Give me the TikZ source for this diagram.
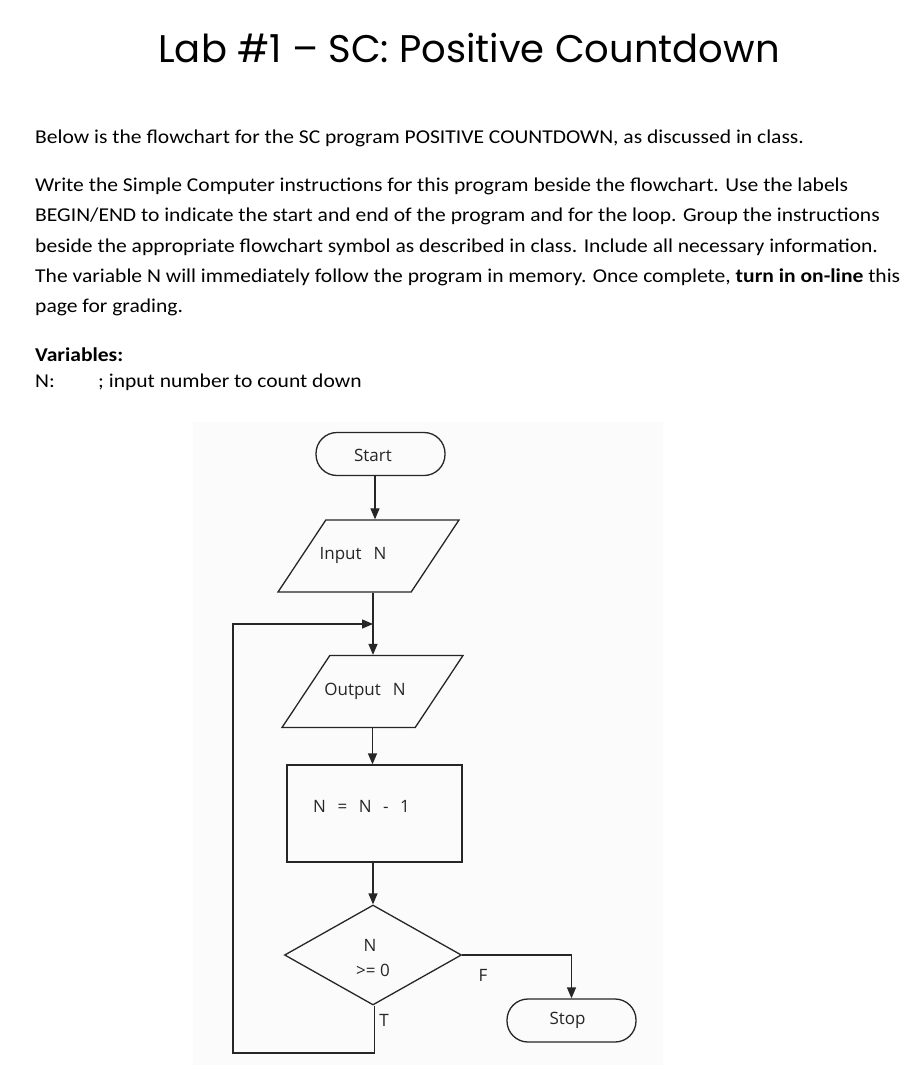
\documentclass[tikz,border=0pt]{standalone}
\usepackage{fontspec}
\setmainfont{Carlito}
\newfontfamily\bodyfont{Carlito}[FakeStretch=1.10]
\newfontfamily\titlefont{Poppins}
\newfontfamily\fcfont{Open Sans}
\usetikzlibrary{shapes.geometric,arrows.meta}
\begin{document}
\begin{tikzpicture}[x=1pt,y=-1pt,
  body/.style={anchor=base west,inner sep=0,font=\bodyfont\fontsize{19.6}{22}\selectfont},
  fcline/.style={draw=black!85,line width=1.3pt},
  fctext/.style={font=\fcfont\fontsize{17}{20}\selectfont,text=black!85,inner sep=0},
  arr/.style={fcline,-{Triangle[length=11pt,width=9pt]}},
  term/.style={fcline,rectangle,rounded corners=21pt,minimum width=129pt,minimum height=43pt,inner sep=0},
  io/.style={fcline,trapezium,trapezium left angle=62,trapezium right angle=118,trapezium stretches=true,minimum width=181pt,minimum height=72pt,inner sep=2pt},
  proc/.style={fcline,rectangle,minimum width=175pt,minimum height=97pt,inner sep=0},
  dec/.style={fcline,diamond,minimum width=177pt,minimum height=100pt,inner sep=0}
]
\useasboundingbox (0,0) rectangle (919,1075);
\fill[white] (0,0) rectangle (919,1075);
\fill[black!1.5] (193,422) rectangle (663,1065);

% header text
\node[anchor=base,inner sep=0,font=\titlefont\fontsize{38.5}{44}\selectfont] (title) at (469,63) {Lab \#1 – SC: Positive Countdown};
\node[body] (t1) at (35,144) {Below is the flowchart for the SC program POSITIVE COUNTDOWN, as discussed in class.};
\node[body] (t2) at (35,192) {Write the Simple Computer instructions for this program beside the flowchart. Use the labels};
\node[body] (t3) at (35,222) {BEGIN/END to indicate the start and end of the program and for the loop. Group the instructions};
\node[body] (t4) at (35,252) {beside the appropriate flowchart symbol as described in class. Include all necessary information.};
\node[body] (t5) at (35,282) {The variable N will immediately follow the program in memory. Once complete, \textbf{turn in on-line} this};
\node[body] (t6) at (35,312) {page for grading.};
\node[body] (v1) at (35,361) {\textbf{Variables:}};
\node[body] (v2) at (35,387) {N:};
\node[body] (v3) at (98,387) {; input number to count down};

% flowchart nodes
\node[term] (start) at (380.5,454) {};
\node[fctext] (startT) at (373,455) {Start};
\node[io] (inp) at (368.5,556) {\phantom{x}};
\node[fctext] (inpT) at (353,555) {Input\hspace{12pt}N};
\node[io] (out) at (372.5,691.5) {\phantom{x}};
\node[fctext] (outT) at (365,691) {Output\hspace{12pt}N};
\node[proc] (pr) at (374.5,813.5) {};
\node[fctext] (prT) at (361.5,806) {N\hspace{11.5pt}=\hspace{11.5pt}N\hspace{11.5pt}-\hspace{11.5pt}1};
\node[dec] (dc) at (373,955) {};
\node[fctext] (dcT1) at (370,945) {N};
\node[fctext] (dcT2) at (373,970) {>= 0};
\node[term] (stop) at (571.5,1020.5) {};
\node[fctext] (stopT) at (567.5,1020) {Stop};
\node[fctext] (F) at (483,975) {F};
\node[fctext] (T) at (384,1020) {T};
\coordinate (m) at (373,624);
\coordinate (lp) at (233,1053);

% connectors
\draw[arr] ([xshift=-5.5pt]start.south) -- ([xshift=-5.5pt]start.south |- inp.north);
\draw[arr] (m |- inp.south) -- (m |- out.north);
\draw[arr] (out.south) -- (out.south |- pr.north);
\draw[arr] (dc.north |- pr.south) -- (dc.north);
\draw[arr] (dc.east) -| (stop.north);
\draw[arr] ([xshift=1.5pt]dc.south) |- (lp) |- (m);
\end{tikzpicture}
\end{document}
